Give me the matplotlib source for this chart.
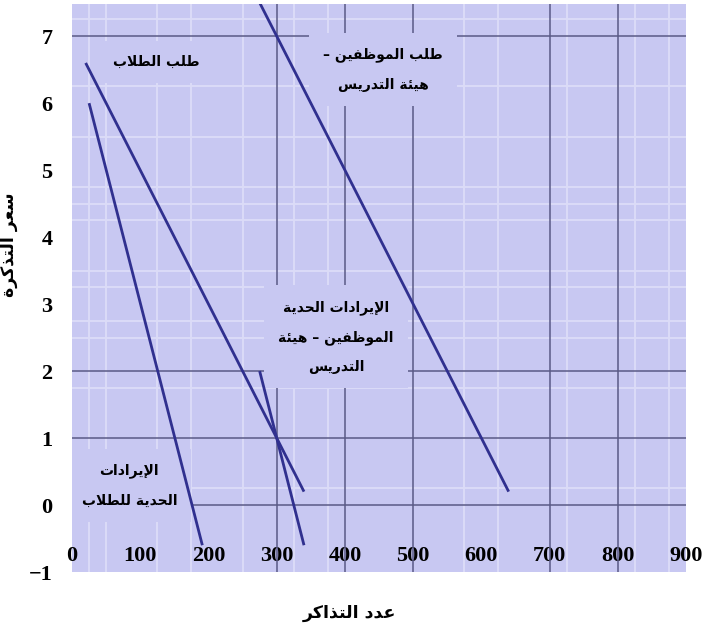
import matplotlib
matplotlib.use('Agg')
import matplotlib.pyplot as plt

# ticket price vs number of tickets
student_demand_q = [20, 340]
student_demand_p = [6.6, 0.2]
student_mr_q = [25, 191]
student_mr_p = [6.0, -0.6]
staff_demand_q = [275, 640]
staff_demand_p = [7.5, 0.2]
staff_mr_q = [275, 340]
staff_mr_p = [2.0, -0.6]

x_ticks = [0, 100, 200, 300, 400, 500, 600, 700, 800, 900]
y_ticks = [-1, 0, 1, 2, 3, 4, 5, 6, 7]

x_title = 'عدد التذاكر'
y_title = 'سعر التذكرة'
labels = [
    ('طلب الطلاب', 123, 6.61),
    ('طلب الموظفين –\nهيئة التدريس', 456, 6.50),
    ('الإيرادات الحدية\nالموظفين – هيئة\nالتدريس', 387, 2.51),
    ('الإيرادات\nالحدية للطلاب', 84, 0.29),
]

BG = '#c8c8f2'
LINE = '#30308f'
DARK = '#5a5a86'

# matplotlib does no arabic shaping, so do it by hand
FORMS = {
    'ا': (0xFE8D, 0xFE8E, None, None),
    'إ': (0xFE87, 0xFE88, None, None),
    'ب': (0xFE8F, 0xFE90, 0xFE91, 0xFE92),
    'ة': (0xFE93, 0xFE94, None, None),
    'ت': (0xFE95, 0xFE96, 0xFE97, 0xFE98),
    'ح': (0xFEA1, 0xFEA2, 0xFEA3, 0xFEA4),
    'د': (0xFEA9, 0xFEAA, None, None),
    'ذ': (0xFEAB, 0xFEAC, None, None),
    'ر': (0xFEAD, 0xFEAE, None, None),
    'س': (0xFEB1, 0xFEB2, 0xFEB3, 0xFEB4),
    'ط': (0xFEC1, 0xFEC2, 0xFEC3, 0xFEC4),
    'ظ': (0xFEC5, 0xFEC6, 0xFEC7, 0xFEC8),
    'ع': (0xFEC9, 0xFECA, 0xFECB, 0xFECC),
    'ف': (0xFED1, 0xFED2, 0xFED3, 0xFED4),
    'ك': (0xFED9, 0xFEDA, 0xFEDB, 0xFEDC),
    'ل': (0xFEDD, 0xFEDE, 0xFEDF, 0xFEE0),
    'م': (0xFEE1, 0xFEE2, 0xFEE3, 0xFEE4),
    'ن': (0xFEE5, 0xFEE6, 0xFEE7, 0xFEE8),
    'ه': (0xFEE9, 0xFEEA, 0xFEEB, 0xFEEC),
    'و': (0xFEED, 0xFEEE, None, None),
    'ي': (0xFEF1, 0xFEF2, 0xFEF3, 0xFEF4),
    'ئ': (0xFE89, 0xFE8A, 0xFE8B, 0xFE8C),
}
LAM_ALEF = {'ا': (0xFEFB, 0xFEFC), 'إ': (0xFEF9, 0xFEFA)}


def joins_next(c):
    return c in FORMS and FORMS[c][2] is not None


def shape_line(s):
    out = []
    i = 0
    while i < len(s):
        c = s[i]
        prev = s[i - 1] if i > 0 else ''
        nxt = s[i + 1] if i + 1 < len(s) else ''
        if c not in FORMS:
            out.append(c)
            i += 1
            continue
        jp = joins_next(prev)
        if c == 'ل' and nxt in LAM_ALEF:
            iso, fin = LAM_ALEF[nxt]
            out.append(chr(fin if jp else iso))
            i += 2
            continue
        jn = joins_next(c) and nxt in FORMS
        iso, fin, ini, med = FORMS[c]
        if jp and jn:
            code = med
        elif jp:
            code = fin
        elif jn:
            code = ini
        else:
            code = iso
        out.append(chr(code))
        i += 1
    return ''.join(out)[::-1]


def ar(s):
    return '\n'.join(shape_line(line) for line in s.split('\n'))


fig = plt.figure(figsize=(7.02, 6.27), dpi=100)
ax = fig.add_axes([0.1026, 0.0877, 0.8747, 0.9059])
ax.set_facecolor(BG)
ax.set_xlim(0, 900)
ax.set_ylim(-1, 7.48)

# faint white grid, scanned look
for gx in [25, 50, 125, 175, 250, 325, 375, 575, 625, 725, 825, 875]:
    ax.axvline(gx, color='#dcdcf8', lw=1.3, zorder=1)
for gy in [7.25, 6.25, 5.5, 4.75, 4.5, 4.25, 3.5, 3.25, 2.75, 2.5, 1.75, 0.25]:
    ax.axhline(gy, color='#dcdcf8', lw=1.3, zorder=1)

for rx in [300, 400, 500, 700, 800]:
    ax.axvline(rx, color=DARK, lw=1.1, zorder=2)
for ry in [0, 1, 2, 7]:
    ax.axhline(ry, color=DARK, lw=1.1, zorder=2)

for q, p in [(student_demand_q, student_demand_p), (student_mr_q, student_mr_p),
             (staff_demand_q, staff_demand_p), (staff_mr_q, staff_mr_p)]:
    ax.plot(q, p, color=LINE, lw=2.0, solid_capstyle='butt', zorder=5)

for txt, x, y in labels:
    ax.text(x, y, ar(txt), ha='center', va='center', fontsize=10,
            fontweight='bold', family='DejaVu Sans', linespacing=2.4,
            bbox=dict(facecolor=BG, edgecolor='none', pad=10),
            zorder=4, clip_on=True)

for s in ax.spines.values():
    s.set_visible(False)

ax.set_xticks(x_ticks)
ax.set_yticks(y_ticks)
ax.set_yticklabels(['−1' if v < 0 else str(v) for v in y_ticks])
ax.tick_params(axis='both', length=0, labelsize=16)
ax.tick_params(axis='x', pad=-19)
ax.tick_params(axis='y', pad=14)
for t in ax.get_xticklabels() + ax.get_yticklabels():
    t.set_family('Liberation Serif')
    t.set_fontweight('bold')
    t.set_zorder(6)

ax.set_xlabel(ar(x_title), fontsize=12.5, fontweight='bold', family='DejaVu Sans')
ax.set_ylabel(ar(y_title), fontsize=12.5, fontweight='bold', family='DejaVu Sans')
ax.xaxis.set_label_coords(0.451, -0.056)
ax.yaxis.set_label_coords(-0.088, 0.576)

fig.savefig('out.png', dpi=100)
